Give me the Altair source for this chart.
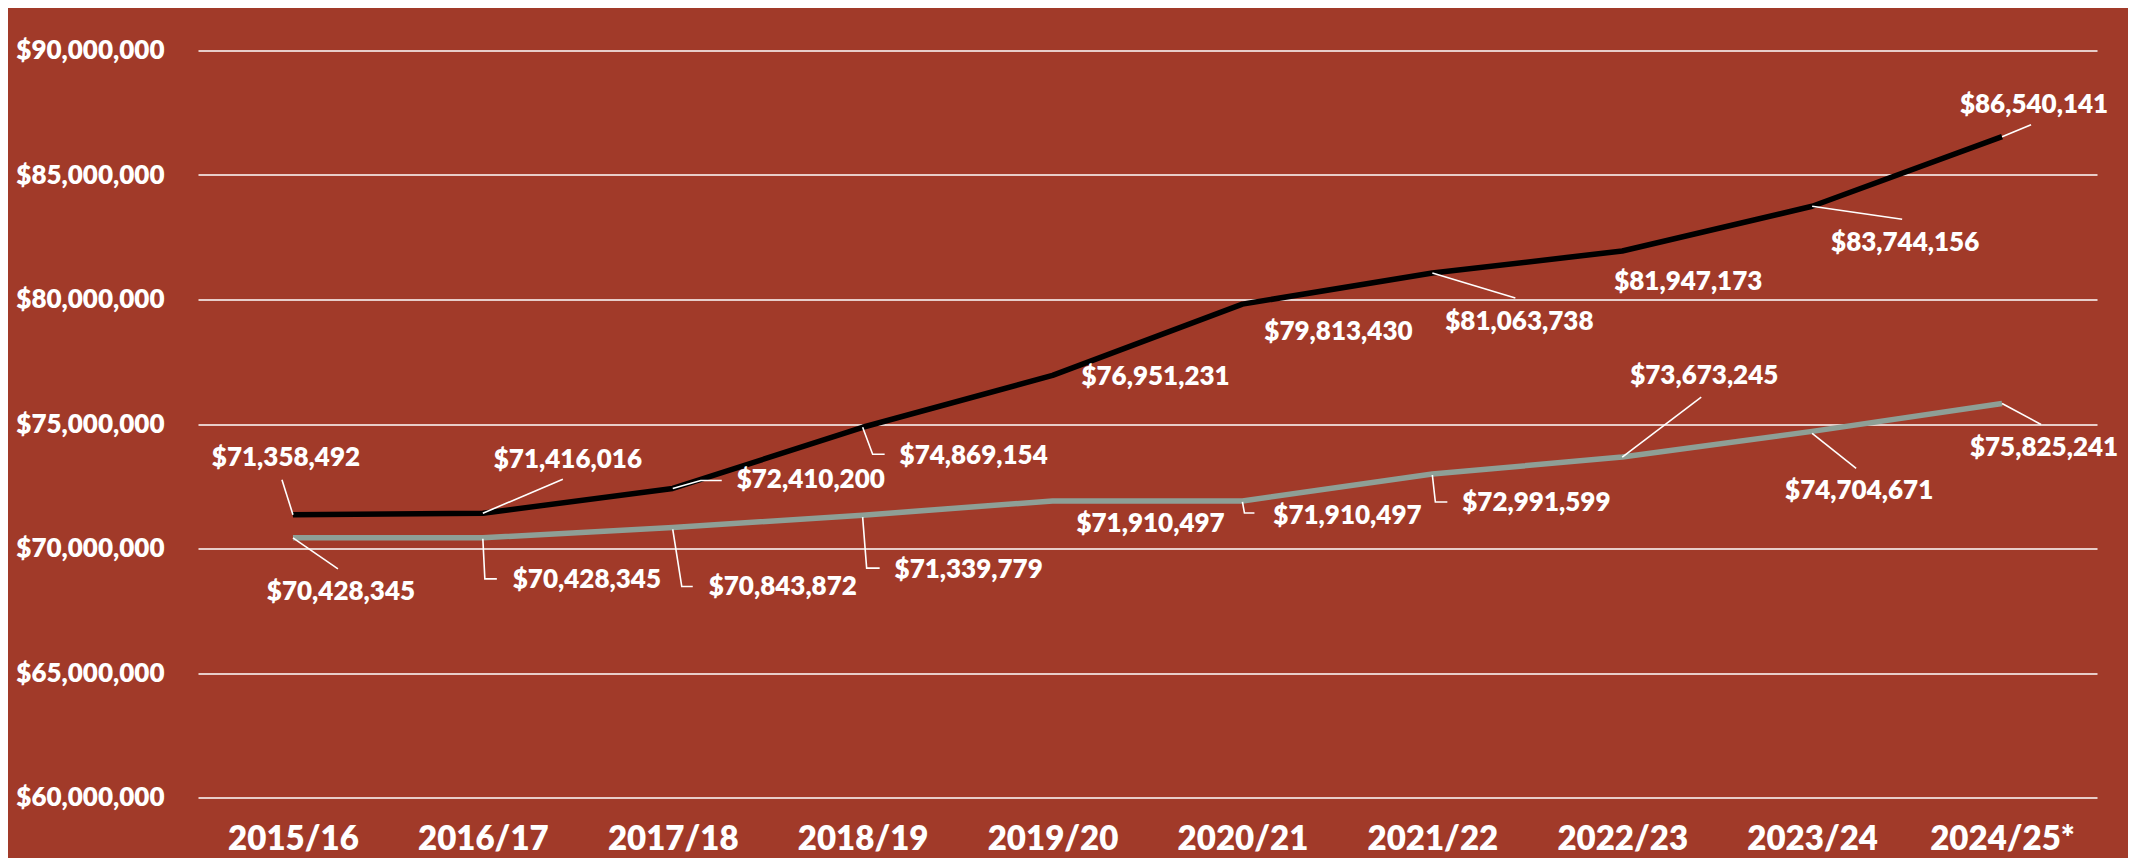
import altair as alt
import pandas as pd

# ---------------- data ----------------
years = ["2015/16", "2016/17", "2017/18", "2018/19", "2019/20",
         "2020/21", "2021/22", "2022/23", "2023/24", "2024/25*"]
black_values = [71358492, 71416016, 72410200, 74869154, 76951231,
                79813430, 81063738, 81947173, 83744156, 86540141]
gray_values = [70428345, 70428345, 70843872, 71339779, 71910497,
               71910497, 72991599, 73673245, 74704671, 75825241]
y_ticks = [60000000, 65000000, 70000000, 75000000, 80000000, 85000000, 90000000]

# ---------------- label placement (pixel offsets from each point) ----------------
black_label_dx = [-7, 85, 138, 111, 103, 96, 87, 66, 93, 32]
black_label_dy = [-57, -53, -8, 29, 2, 28, 49, 31, 37, -32]
gray_label_dx = [48, 104, 110, 106, 98, 105, 104, 82, 47, 42]
gray_label_dy = [54, 42, 60, 55, 23, 15, 29, -81, 60, 45]
black_leaders = [[(0, 0), (-11, -35)], [(0, 0), (80, -34)], [(0, 0), (28, -8), (49, -8)],
                 [(0, 0), (10, 27), (22, 27)], [], [], [(0, 0), (83, 25)], [],
                 [(0, 0), (90, 13)], [(0, 0), (29, -12)]]
gray_leaders = [[(0, 0), (45, 31)], [(0, 1), (2, 41), (14, 41)], [(0, 2), (9, 59), (20, 59)],
                [(0, 2), (4, 53), (17, 53)], [], [(0, 1), (2, 12), (12, 12)],
                [(0, 1), (3, 28), (15, 28)], [(0, 0), (79, -60)], [(0, 2), (44, 37)],
                [(0, 0), (39, 21)]]

# ---------------- layout ----------------
W, H = 1899, 747
Y_MIN, Y_MAX = 60000000, 90000000
PX_PER_X = W / 10.0
PX_PER_Y = H / (Y_MAX - Y_MIN)

BG = "#A13A29"
BLACK = "#000000"
GRAY = "#8E9F96"
FONT = "Lato"

line_rows = []
for i, (b, g) in enumerate(zip(black_values, gray_values)):
    line_rows.append({"i": i, "v": b, "s": "black"})
    line_rows.append({"i": i, "v": g, "s": "gray"})
lines_df = pd.DataFrame(line_rows)

label_rows = []
leader_rows = []
for series, vals, ldx, ldy, leads in [
    ("black", black_values, black_label_dx, black_label_dy, black_leaders),
    ("gray", gray_values, gray_label_dx, gray_label_dy, gray_leaders),
]:
    for i, v in enumerate(vals):
        label_rows.append({
            "lx": i + ldx[i] / PX_PER_X,
            "ly": v - ldy[i] / PX_PER_Y,
            "txt": "${:,}".format(v),
        })
        for k, (dx, dy) in enumerate(leads[i]):
            leader_rows.append({
                "lid": f"{series}{i}",
                "ord": k,
                "lx": i + dx / PX_PER_X,
                "ly": v - dy / PX_PER_Y,
            })
labels_df = pd.DataFrame(label_rows)
leaders_df = pd.DataFrame(leader_rows)

x_scale = alt.Scale(domain=[-0.5, 9.5], nice=False, zero=False)
y_scale = alt.Scale(domain=[Y_MIN, Y_MAX], nice=False, zero=False)

years_js = "[" + ",".join("'" + y + "'" for y in years) + "]"

x_axis = alt.Axis(
    values=list(range(10)), labelExpr=years_js + "[datum.value]",
    title=None, grid=False, domain=False, ticks=False,
    labelFont=FONT, labelFontSize=33, labelFontWeight=800, labelColor="white",
    labelPadding=26, labelFlush=False,
)
y_axis = alt.Axis(
    values=y_ticks, format="$,.0f", title=None,
    grid=True, gridColor="white", gridWidth=1.5, gridOpacity=1,
    domain=False, ticks=False,
    labelFont=FONT, labelFontSize=26, labelFontWeight=800, labelColor="white",
    labelPadding=34,
)

base_lines = alt.Chart(lines_df).mark_line(strokeWidth=5.5, strokeJoin="round").encode(
    x=alt.X("i:Q", scale=x_scale, axis=x_axis),
    y=alt.Y("v:Q", scale=y_scale, axis=y_axis),
    color=alt.Color("s:N", scale=alt.Scale(domain=["black", "gray"], range=[BLACK, GRAY]), legend=None),
    detail="s:N",
)

leaders = alt.Chart(leaders_df).mark_line(color="white", strokeWidth=1.6).encode(
    x=alt.X("lx:Q", scale=x_scale),
    y=alt.Y("ly:Q", scale=y_scale),
    detail="lid:N",
    order="ord:Q",
)

texts = alt.Chart(labels_df).mark_text(
    font=FONT, fontSize=26, fontWeight=800, color="white",
    align="center", baseline="middle",
).encode(
    x=alt.X("lx:Q", scale=x_scale),
    y=alt.Y("ly:Q", scale=y_scale),
    text="txt:N",
)

top_border = alt.Chart(pd.DataFrame({"a": [0]})).mark_rule(color="white", strokeWidth=1.5).encode(
    x=alt.value(-174), x2=alt.value(W + 60), y=alt.value(-45.5),
)

chart = alt.layer(base_lines, leaders, texts, top_border).properties(
    width=W, height=H,
    padding={"left": 190, "top": 42.5, "right": 31, "bottom": 60.5},
    autosize=alt.AutoSizeParams(type="none"),
    background=BG,
).configure_view(stroke=None)

chart.save("out.html", embed_options={"renderer": "svg", "actions": False})
